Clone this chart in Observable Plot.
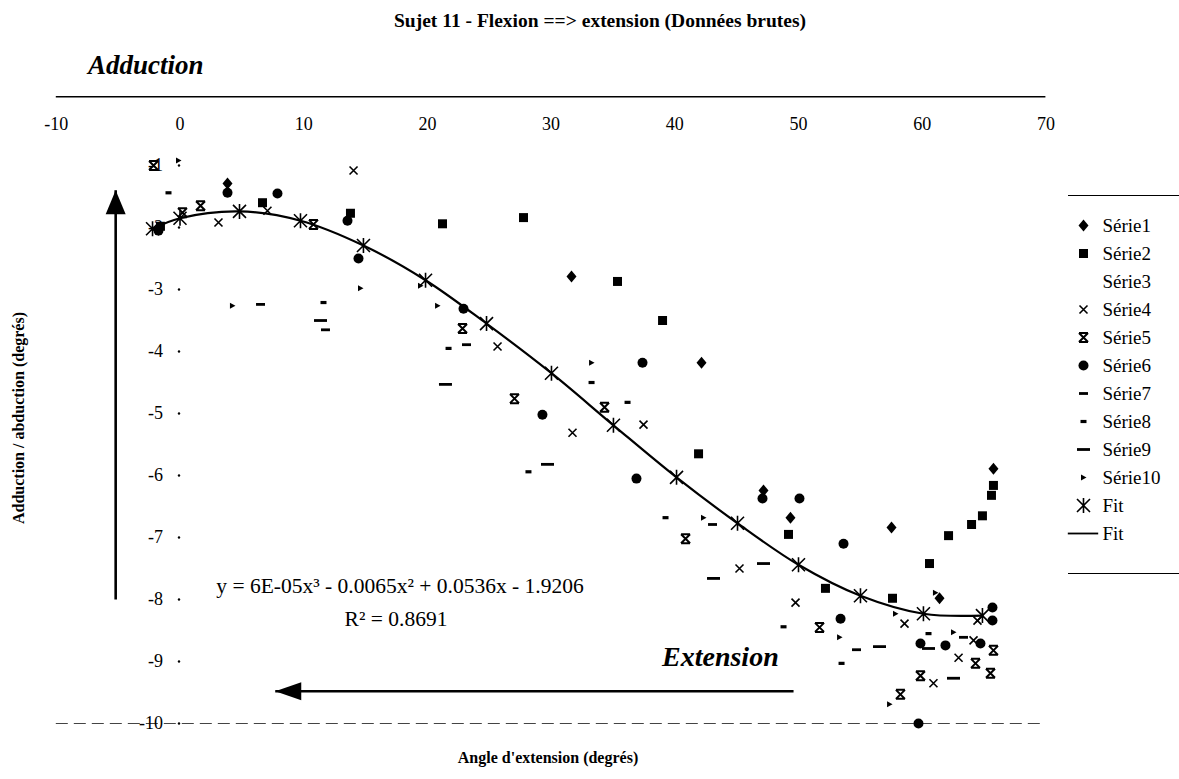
<!DOCTYPE html>
<html><head><meta charset="utf-8">
<script src="https://cdn.jsdelivr.net/npm/d3@7"></script>
<script src="https://cdn.jsdelivr.net/npm/@observablehq/plot@0.6"></script>
<style>
body{margin:0;background:#fff;}
#wrap{position:relative;width:1179px;height:779px;overflow:hidden;font-family:"Liberation Serif","Times New Roman",serif;color:#000;background:#fff}
.abs{position:absolute;white-space:nowrap;line-height:1}
#main,#legend{position:absolute;top:0}
#main{left:0}
</style></head><body><div id="wrap"></div>
<script>
// ---------- data ----------
const xTicks = [-10, 0, 10, 20, 30, 40, 50, 60, 70];
const yTicks = [-1, -2, -3, -4, -5, -6, -7, -8, -9, -10];
const seriesNames = ["Série1","Série2","Série3","Série4","Série5","Série6","Série7","Série8","Série9","Série10","Fit","Fit"];

const serie1 = [[3.84,-1.29],[31.65,-2.79],[42.16,-4.18],[47.17,-6.24],[65.76,-5.89],[57.52,-6.84],[61.4,-7.98],[49.35,-6.68]];
const serie2 = [[-1.58,-1.98],[6.67,-1.6],[13.78,-1.77],[21.22,-1.94],[27.77,-1.84],[35.37,-2.87],[39.01,-3.5],[41.92,-5.65],[49.19,-6.95],[52.18,-7.82],[57.6,-7.98],[60.59,-7.42],[62.13,-6.97],[63.99,-6.79],[64.87,-6.65],[65.6,-6.32],[65.76,-6.16]];
const serie3 = [];
const serie4 = [[3.11,-1.92],[7.07,-1.73],[14.03,-1.08],[25.67,-3.92],[31.73,-5.31],[37.47,-5.18],[45.23,-7.5],[49.76,-8.05],[58.57,-8.39],[60.91,-9.35],[64.47,-8.34],[64.15,-8.66],[62.94,-8.94]];
const serie5 = [[-2.14,-1.0],[0.2,-1.76],[1.66,-1.65],[10.79,-1.95],[22.84,-3.63],[27.04,-4.76],[34.32,-4.9],[40.87,-7.02],[51.7,-8.45],[59.86,-9.23],[58.24,-9.53],[65.76,-8.82],[64.31,-9.03],[65.52,-9.19]];
const serie6 = [[-1.74,-2.05],[3.84,-1.44],[7.88,-1.45],[13.54,-1.89],[14.43,-2.5],[22.92,-3.31],[29.3,-5.02],[36.9,-6.05],[37.39,-4.18],[47.09,-6.37],[50.08,-6.37],[53.64,-7.1],[53.4,-8.31],[59.86,-8.71],[61.88,-8.74],[65.68,-8.13],[65.68,-8.34],[64.71,-8.71],[59.7,-10.0]];
const serie7 = [[6.51,-3.24],[11.76,-3.65],[23.16,-3.89],[43.05,-6.79],[54.69,-8.81],[63.34,-8.61]];
const serie8 = [[-0.93,-1.44],[11.6,-3.21],[21.71,-3.95],[33.27,-4.5],[36.18,-4.82],[28.17,-5.94],[39.25,-6.68],[48.79,-8.44],[53.48,-9.03],[60.51,-8.55]];
const serie9 = [[11.36,-3.5],[21.46,-4.53],[29.71,-5.82],[47.17,-7.42],[43.13,-7.66],[56.55,-8.76],[60.51,-8.79],[62.53,-9.27]];
const serie10 = [[-0.12,-0.92],[4.24,-3.26],[14.59,-2.98],[19.44,-2.94],[20.82,-3.26],[33.27,-4.18],[42.32,-6.68],[53.32,-8.61],[57.84,-8.23],[61.07,-7.89],[57.36,-9.69],[62.53,-8.53]];
const fitPoints = [[-2.22,-2.02],[0,-1.85],[4.81,-1.74],[9.74,-1.89],[14.83,-2.29],[19.85,-2.85],[24.78,-3.55],[30.03,-4.35],[35.04,-5.19],[40.14,-6.03],[45.07,-6.77],[50.0,-7.44],[55.01,-7.94],[60.1,-8.23],[64.87,-8.26]];

const equationText = "y = 6E-05x³ - 0.0065x² + 0.0536x - 1.9206";
const r2Text = "R² = 0.8691";

// annotation arrows (data coordinates)
const arrowUp = [{x: -5.2, yFrom: -8.0, yTo: -1.4}];
const arrowLeft = [{y: -9.48, xFrom: 49.6, xTo: 7.7}];

// ---------- symbols ----------
const sym = fn => ({draw(ctx){ fn(ctx); }});
const rect = (w,h) => sym(c => {c.moveTo(-w,-h);c.lineTo(w,-h);c.lineTo(w,h);c.lineTo(-w,h);c.closePath();});
const S = {
  diamond: sym(c => {c.moveTo(0,-6);c.lineTo(5,0);c.lineTo(0,6);c.lineTo(-5,0);c.closePath();}),
  square: rect(4.5,4.5),
  circle: sym(c => {c.moveTo(5,0);c.arc(0,0,5,0,2*Math.PI);c.closePath();}),
  times: sym(c => {c.moveTo(-4,-4);c.lineTo(4,4);c.moveTo(4,-4);c.lineTo(-4,4);}),
  hour: sym(c => {const r=4.5;c.moveTo(-r,-r);c.lineTo(r,r);c.moveTo(r,-r);c.lineTo(-r,r);c.moveTo(-r,-r);c.lineTo(r,-r);c.moveTo(-r,r);c.lineTo(r,r);}),
  star: sym(c => {const r=6.5;c.moveTo(-r,-r);c.lineTo(r,r);c.moveTo(r,-r);c.lineTo(-r,r);c.moveTo(0,-r-1);c.lineTo(0,r+1);}),
  dash7: rect(4.5,1.4),
  dash8: rect(3,1.6),
  dash9: rect(6.5,1.4),
  tri: sym(c => {c.moveTo(-2.5,-3);c.lineTo(3,0);c.lineTo(-2.5,3);c.closePath();}),
  none: sym(c => {}),
  headUp: sym(c => {c.moveTo(0,0);c.lineTo(10,24);c.lineTo(-10,24);c.closePath();}),
  headLeft: sym(c => {c.moveTo(0,0);c.lineTo(26,-9);c.lineTo(26,9);c.closePath();})
};
const filled = {fill:"#000", stroke:"none"};
const stroked = w => ({fill:"none", stroke:"#000", strokeWidth:w});
const seriesDefs = [
  {data: serie1, symbol: S.diamond, style: filled},
  {data: serie2, symbol: S.square, style: filled},
  {data: serie3, symbol: S.none, style: filled},
  {data: serie4, symbol: S.times, style: stroked(1.6)},
  {data: serie5, symbol: S.hour, style: stroked(2)},
  {data: serie6, symbol: S.circle, style: filled},
  {data: serie7, symbol: S.dash7, style: filled},
  {data: serie8, symbol: S.dash8, style: filled},
  {data: serie9, symbol: S.dash9, style: filled},
  {data: serie10, symbol: S.tri, style: filled},
  {data: fitPoints, symbol: S.star, style: stroked(1.6)}
];

const font = '"Liberation Serif","Times New Roman",serif';

// ---------- main plot ----------
const marks = [
  Plot.ruleY([0.11], {x1: -10, x2: 70, stroke: "#000", strokeWidth: 1.6}),
  Plot.ruleY([-10], {x1: -10, x2: 70, stroke: "#444", strokeWidth: 1, strokeDasharray: "12,6"}),
  Plot.text(xTicks, {x: d => d, y: () => 0.11, dy: 28, text: d => String(d), fontSize: 18}),
  Plot.text(yTicks, {x: () => 0, y: d => d, dx: -17, textAnchor: "end", text: d => String(d), fontSize: 18}),
  Plot.dot(yTicks, {x: () => 0, y: d => d, dx: -1, r: 1.2, fill: "#000", stroke: "none"}),
  Plot.link(arrowUp, {x1: "x", x2: "x", y1: "yFrom", y2: "yTo", stroke: "#000", strokeWidth: 2.6}),
  Plot.dot(arrowUp, {x: "x", y: "yTo", r: 5, symbol: S.headUp, fill: "#000", stroke: "none"}),
  Plot.link(arrowLeft, {x1: "xFrom", x2: "xTo", y1: "y", y2: "y", stroke: "#000", strokeWidth: 2.6}),
  Plot.dot(arrowLeft, {x: "xTo", y: "y", r: 5, symbol: S.headLeft, fill: "#000", stroke: "none"}),
  Plot.line(fitPoints, {x: d => d[0], y: d => d[1], curve: "catmull-rom", stroke: "#000", strokeWidth: 2.2})
];
for (const s of seriesDefs) {
  marks.push(Plot.dot(s.data, {x: d => d[0], y: d => d[1], r: 5, symbol: s.symbol, ...s.style}));
}

const chart = Plot.plot({
  width: 1179, height: 779,
  marginLeft: 55.8, marginRight: 133.6, marginTop: 96.2, marginBottom: 56,
  x: {domain: [-10, 70], axis: null},
  y: {domain: [-10, 0.11], axis: null},
  style: {fontFamily: font, fontSize: "18px", background: "transparent", color: "#000"},
  marks
});
chart.id = "main";

// ---------- legend plot ----------
const idx = d3.range(seriesNames.length);
const legendMarks = [
  Plot.text(idx, {x: () => 1, y: d => d, text: d => seriesNames[d], textAnchor: "start", fontSize: 19})
];
seriesDefs.forEach((s, i) => {
  legendMarks.push(Plot.dot([i], {x: () => 0, y: d => d, r: 5, symbol: s.symbol, ...s.style}));
});
legendMarks.push(Plot.ruleY([11], {x1: -0.8, x2: 0.8, stroke: "#000", strokeWidth: 1.8}));
const legend = Plot.plot({
  width: 120, height: 600,
  marginLeft: 23, marginRight: 78, marginTop: 210, marginBottom: 53,
  x: {domain: [0, 1], axis: null},
  y: {type: "point", domain: idx, axis: null},
  style: {fontFamily: font, fontSize: "19px", background: "transparent", color: "#000", overflow: "visible"},
  marks: legendMarks
});
legend.id = "legend";
legend.style.left = "1060px";

// ---------- assemble ----------
const wrap = document.getElementById("wrap");
wrap.appendChild(chart);
wrap.appendChild(legend);
function addText(txt, css) {
  const d = document.createElement("div");
  d.className = "abs";
  d.textContent = txt;
  Object.assign(d.style, css);
  wrap.appendChild(d);
  return d;
}
addText("Sujet 11 - Flexion ==> extension (Données brutes)", {left: "0px", width: "1200px", textAlign: "center", top: "11px", fontSize: "19.5px", fontWeight: "bold"});
addText("Adduction", {left: "88px", top: "52px", fontSize: "27px", fontWeight: "bold", fontStyle: "italic"});
addText("Extension", {left: "662px", top: "643px", fontSize: "28px", fontWeight: "bold", fontStyle: "italic"});
addText(equationText, {left: "400px", top: "576px", fontSize: "21.5px", transform: "translateX(-50%)"});
addText(r2Text, {left: "396px", top: "609px", fontSize: "21.5px", transform: "translateX(-50%)"});
addText("Adduction / abduction (degrés)", {left: "19px", top: "418px", fontSize: "16px", fontWeight: "bold", transform: "translate(-50%,-50%) rotate(-90deg)"});
addText("Angle d'extension (degrés)", {left: "548px", top: "750px", fontSize: "16px", fontWeight: "bold", transform: "translateX(-50%)"});
addText("", {left: "1068px", top: "195px", width: "111px", height: "0px", borderTop: "1.5px solid #000"});
addText("", {left: "1068px", top: "573px", width: "111px", height: "0px", borderTop: "1.5px solid #000"});
</script></body></html>
